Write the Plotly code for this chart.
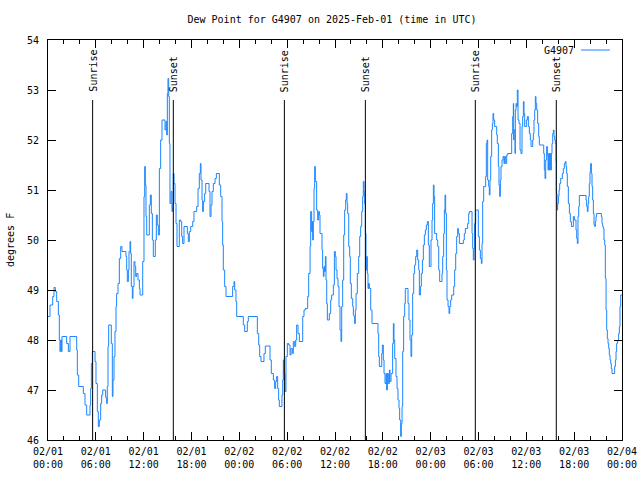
import datetime as dt
import plotly.graph_objects as go

start = dt.datetime(2025, 2, 1, 0, 0)

# hours since 2025-02-01 00:00 UTC
hours = [
 0.0, 0.25, 0.59, 0.75, 0.92, 1.09, 1.30, 1.42, 1.50, 1.59, 1.68, 1.76, 2.34, 2.55, 2.76, 3.60, 3.68, 3.85,
 4.43, 4.64, 4.85, 5.27, 5.35, 5.44, 5.56, 5.90, 6.02, 6.19, 6.31, 6.44, 6.61, 6.73, 6.86, 7.23, 7.36, 7.44,
 7.53, 7.61, 7.94, 8.07, 8.15, 8.28, 8.40, 8.53, 8.61, 8.78, 8.95, 9.12, 9.28, 9.78, 9.87, 9.95, 10.08, 10.16,
 10.29, 10.37, 10.45, 10.58, 10.66, 10.79, 10.91, 11.0, 11.12, 11.29, 11.46, 11.54, 11.88, 12.04, 12.13, 12.21,
 12.29, 12.38, 12.71, 12.84, 12.96, 13.09, 13.21, 13.46, 13.59, 13.71, 13.84, 13.97, 14.13, 14.30, 14.68, 14.80,
 14.89, 14.97, 15.05, 15.14, 15.22, 15.30, 15.43, 15.55, 15.64, 15.72, 15.81, 15.93, 16.06, 16.18, 16.47, 16.64,
 16.77, 16.89, 17.06, 17.48, 17.60, 17.73, 17.90, 18.15, 18.31, 18.65, 18.82, 18.98, 19.11, 19.19, 19.32, 19.40,
 19.49, 19.65, 19.78, 20.20, 20.32, 20.45, 20.57, 20.74, 20.95, 21.12, 21.49, 21.66, 21.83, 21.91, 21.99, 22.16,
 22.33, 23.16, 23.33, 23.42, 23.58, 23.67, 24.50, 24.67, 25.00, 25.13, 26.26, 26.43, 26.55, 26.72, 27.09, 27.26,
 27.85, 28.01, 28.27, 28.43, 28.56, 28.68, 28.81, 28.93, 29.02, 29.35, 29.44, 29.52, 29.60, 29.73, 29.85, 30.02,
 30.19, 30.36, 30.48, 30.65, 30.77, 30.94, 31.07, 31.19, 31.36, 31.53, 31.95, 32.11, 32.28, 32.57, 32.70, 32.87,
 32.95, 33.07, 33.16, 33.20, 33.28, 33.37, 33.45, 33.53, 33.70, 33.83, 33.95, 34.04, 34.12, 34.37, 34.45, 34.54,
 34.62, 34.71, 34.79, 34.87, 34.96, 35.04, 35.29, 35.46, 35.58, 35.79, 35.92, 36.04, 36.13, 36.25, 36.38, 36.50,
 36.63, 36.75, 36.84, 36.96, 37.09, 37.21, 37.34, 37.42, 37.51, 37.59, 37.72, 37.84, 37.92, 38.05, 38.22, 38.30,
 38.38, 38.47, 38.55, 38.64, 38.80, 38.97, 39.10, 39.22, 39.35, 39.47, 39.55, 39.64, 39.72, 39.81, 39.89, 39.97,
 40.06, 40.14, 40.22, 40.31, 40.48, 40.64, 41.39, 41.48, 41.56, 41.86, 41.94, 42.06, 42.15, 42.27, 42.40, 42.48,
 42.57, 42.69, 42.82, 42.90, 43.03, 43.23, 43.32, 43.40, 43.49, 43.65, 43.78, 43.90, 44.03, 44.11, 44.24, 44.32,
 44.41, 44.49, 44.61, 44.74, 44.82, 45.16, 45.28, 45.41, 45.53, 45.62, 45.74, 45.87, 45.99, 46.12, 46.25, 46.37,
 46.50, 46.58, 46.71, 46.83, 46.96, 47.08, 47.21, 47.33, 47.46, 47.58, 47.71, 47.83, 47.92, 48.04, 48.17, 48.25,
 48.34, 48.42, 48.50, 48.75, 48.88, 49.01, 49.13, 49.42, 49.51, 49.63, 49.72, 49.80, 49.88, 49.97, 50.05, 50.18,
 50.30, 50.39, 50.51, 50.64, 50.89, 51.01, 51.14, 51.26, 51.39, 51.47, 51.60, 52.10, 52.22, 52.35, 52.64, 52.77,
 52.85, 53.19, 53.27, 53.35, 53.44, 53.52, 53.65, 53.98, 54.11, 54.23, 54.36, 54.44, 54.52, 54.65, 54.90, 54.98,
 55.07, 55.15, 55.28, 55.36, 55.44, 55.53, 55.65, 55.74, 55.82, 55.90, 56.03, 56.28, 56.36, 56.49, 56.57, 56.66,
 56.74, 56.82, 56.95, 57.08, 57.20, 57.28, 57.41, 57.54, 57.66, 58.16, 58.29, 58.37, 58.41, 58.45, 58.58, 58.62,
 58.71, 58.79, 58.87, 58.96, 59.08, 59.21, 59.33, 59.46, 59.54, 59.63, 59.71, 59.79, 60.00, 60.13, 60.25, 60.38,
 60.50, 60.59, 60.80, 60.88, 60.96, 61.05, 61.13, 61.21, 61.30, 61.42, 61.55, 61.63, 62.18, 62.26, 62.34, 62.43,
 62.55, 62.64, 62.72, 62.80, 62.89, 62.97, 63.05, 63.14, 63.22, 63.31, 63.39, 63.47, 63.56, 63.64, 63.72, 63.76,
 63.85, 63.93, 64.02, 64.10, 64.18, 64.31, 64.52, 64.64, 64.77, 64.89, 64.98, 65.06, 65.14, 65.27, 65.40, 65.52,
 65.65, 65.90, 66.02, 66.23, 66.32, 66.40, 66.48, 66.57, 66.65, 67.49, 67.57, 67.65, 67.74, 67.82, 67.90, 67.99,
 68.07, 68.16, 68.24, 68.32, 68.41, 68.49, 68.57, 68.66, 68.74, 68.82, 69.41, 69.49, 69.58, 69.66, 69.74, 69.83,
 69.91, 70.00, 70.08, 70.16, 70.25, 70.33, 70.41, 70.50, 70.58, 70.66, 70.75, 71.08, 71.17, 71.25, 71.33, 71.42,
 71.50, 71.58, 71.67, 71.75, 71.84, 72.0,
]

dew_point = [
 48.47, 48.7, 48.87, 49.05, 48.97, 48.77, 48.5, 48.0, 47.77, 48.0, 47.77, 48.07, 47.93, 47.77, 48.07, 47.8, 47.3, 47.07,
 46.93, 46.7, 46.5, 46.7, 47.03, 47.53, 47.77, 47.57, 47.13, 46.57, 46.27, 46.4, 46.73, 46.9, 47.0, 46.85, 46.73, 47.07,
 47.87, 48.3, 47.93, 46.87, 47.2, 47.67, 48.17, 48.67, 48.93, 49.13, 49.63, 49.87, 49.77, 49.67, 49.4, 49.17, 49.4, 49.77,
 49.97, 49.73, 49.07, 48.83, 49.07, 49.57, 49.47, 49.27, 49.33, 49.2, 49.03, 48.9, 49.57, 50.87, 51.47, 51.1,
 50.47, 50.1, 50.7, 50.9, 50.53, 50.0, 49.67, 50.0, 50.5, 50.3, 50.1, 51.43, 52.0, 52.4, 52.2, 52.37,
 52.1, 52.93, 53.23, 52.87, 51.93, 50.73, 50.97, 50.57, 50.73, 51.33, 51.13, 50.73, 50.33, 49.87, 50.4, 50.37,
 50.07, 49.93, 50.27, 50.13, 49.97, 50.17, 50.27, 50.37, 50.57, 50.67, 51.03, 51.33, 51.53, 51.2, 50.8, 50.57,
 50.77, 50.93, 51.13, 50.97, 50.47, 50.7, 50.97, 51.13, 51.23, 51.33, 51.1, 50.87, 50.37, 49.9, 49.4, 49.07,
 48.87, 49.07, 49.17, 49.0, 48.77, 48.47, 48.3, 48.17, 48.37, 48.47, 48.13, 47.9, 47.67, 47.57, 47.73, 47.88,
 47.6, 47.33, 47.2, 47.03, 47.17, 47.27, 47.03, 46.8, 46.67, 46.9, 47.2, 47.6, 47.33, 46.97, 47.67, 47.93,
 47.9, 47.7, 47.83, 47.73, 47.97, 47.87, 48.0, 48.3, 48.13, 47.97, 48.47, 48.6, 48.63, 48.87, 49.33, 49.87,
 50.57, 50.17, 50.37, 50.0, 50.37, 51.03, 51.47, 51.17, 50.6, 50.4, 50.57, 50.5, 50.13, 49.8, 49.43, 49.27,
 49.47, 49.37, 49.67, 49.2, 48.73, 48.4, 48.53, 48.8, 48.9, 49.1, 49.77, 49.67, 49.4, 49.23, 49.07, 48.67,
 48.2, 47.97, 48.67, 49.2, 50.1, 50.6, 50.8, 50.93, 50.73, 50.53, 49.87, 49.67, 49.13, 48.83, 48.67, 48.5,
 48.47, 48.33, 48.6, 48.93, 49.33, 49.67, 50.07, 50.27, 50.57, 50.87, 51.17, 50.97, 50.73, 50.13, 49.4, 49.67,
 49.33, 49.03, 49.13, 49.03, 48.6, 48.33, 48.13, 47.67, 47.47, 47.73, 47.9, 47.6, 47.33, 47.13, 47.33, 47.0,
 47.33, 47.13, 47.4, 47.17, 47.33, 47.93, 48.33, 48.0, 47.63, 47.27, 47.03, 46.8, 46.63, 46.4, 46.07, 46.33,
 46.67, 47.77, 48.47, 48.73, 49.03, 48.73, 48.4, 48.0, 47.67, 48.1, 48.93, 49.33, 49.5, 49.67, 49.8, 49.6,
 49.4, 48.9, 49.07, 49.33, 49.6, 49.9, 50.1, 50.2, 50.3, 50.37, 49.9, 49.47, 49.47, 50.0, 50.4, 50.73,
 51.1, 50.87, 50.13, 50.0, 49.87, 49.4, 49.17, 49.33, 49.67, 50.13, 50.6, 50.9, 50.53, 49.4, 48.8, 48.67,
 48.53, 48.67, 48.8, 48.9, 49.07, 49.4, 49.73, 50.07, 50.23, 50.13, 49.93, 50.0, 50.13, 50.23, 50.33, 50.53,
 50.57, 50.13, 49.83, 49.6, 49.83, 50.33, 50.6, 50.07, 49.8, 49.63, 49.53, 49.93, 50.77, 51.07, 51.27, 51.93,
 52.0, 51.2, 51.07, 50.9, 51.2, 51.67, 52.2, 52.33, 52.53, 52.4, 52.27, 52.1, 51.93, 51.47, 51.1, 50.87,
 51.2, 51.47, 51.6, 51.67, 51.53, 51.67, 51.53, 51.7, 51.73, 52.13, 52.47, 52.73, 52.0, 52.2, 51.73, 52.6,
 52.73, 52.67, 53.0, 52.4, 52.33, 51.8, 51.73, 52.27, 52.47, 52.77, 52.53, 52.27, 52.4, 52.47, 52.27, 52.13,
 52.0, 51.87, 52.0, 52.13, 52.4, 52.6, 52.87, 52.73, 52.6, 52.33, 52.07, 51.9, 51.73, 51.4, 51.23, 51.6,
 51.87, 51.7, 51.4, 51.73, 51.4, 51.73, 51.4, 51.73, 51.93, 52.13, 52.2, 52.07, 52.0, 51.93, 51.57, 50.93,
 50.6, 50.73, 50.87, 51.0, 51.13, 51.23, 51.33, 51.43, 51.53, 51.57, 51.47, 51.33, 51.07, 50.73, 50.53, 50.37,
 50.27, 50.47, 50.4, 50.2, 50.03, 49.93, 50.47, 50.67, 50.89, 50.8, 50.67, 50.57, 50.73, 50.87, 51.13, 51.37,
 51.53, 51.33, 51.07, 50.8, 50.53, 50.3, 50.27, 50.37, 50.47, 50.53, 50.47, 50.33, 50.27, 50.23, 50.0, 49.9,
 49.23, 48.6, 48.2, 48.03, 47.93, 47.83, 47.7, 47.6, 47.53, 47.43, 47.33, 47.47, 47.6, 47.77, 47.93, 47.97,
 48.0, 48.13, 48.27, 48.67, 48.9, 48.9,
]

event_hours = [5.6, 15.72, 29.65, 39.81, 53.6, 63.76]
event_labels = ["Sunrise", "Sunset", "Sunrise", "Sunset", "Sunrise", "Sunset"]
event_top = 52.8

tick_hours = [0, 6, 12, 18, 24, 30, 36, 42, 48, 54, 60, 66, 72]
tick_labels = ["02/01<br>00:00", "02/01<br>06:00", "02/01<br>12:00", "02/01<br>18:00",
               "02/02<br>00:00", "02/02<br>06:00", "02/02<br>12:00", "02/02<br>18:00",
               "02/03<br>00:00", "02/03<br>06:00", "02/03<br>12:00", "02/03<br>18:00",
               "02/04<br>00:00"]
y_ticks = [46, 47, 48, 49, 50, 51, 52, 53, 54]

def t(h):
    return start + dt.timedelta(hours=h)

n = min(len(hours), len(dew_point))
xs = [t(h) for h in hours[:n]]
ys = dew_point[:n]

FONT = "DejaVu Sans Mono"
FS = 10
BLUE = "#1a85ff"

fig = go.Figure()
fig.add_trace(go.Scatter(x=xs, y=ys, mode="lines", line=dict(color=BLUE, width=1, shape="hv"),
                         name="G4907", showlegend=False))

for h, lab in zip(event_hours, event_labels):
    fig.add_trace(go.Scatter(x=[t(h), t(h)], y=[46, event_top], mode="lines",
                             line=dict(color="black", width=1), showlegend=False, hoverinfo="skip"))
    fig.add_annotation(x=t(h), y=event_top, text=lab, textangle=-90, showarrow=False,
                       xanchor="center", yanchor="bottom", yshift=6,
                       font=dict(family=FONT, size=FS, color="black"))

# key
fig.add_annotation(xref="paper", yref="paper", x=0.9146, y=0.975, text="G4907", showarrow=False,
                   xanchor="right", yanchor="middle", xshift=3,
                   font=dict(family=FONT, size=FS, color="black"))
fig.add_shape(type="line", xref="paper", yref="paper", x0=0.9286, x1=0.979, y0=0.975, y1=0.975,
              line=dict(color=BLUE, width=1))

# y-axis title
fig.add_annotation(xref="paper", yref="paper", x=(10 - 48) / 574, y=0.5, text="degrees F",
                   textangle=-90, showarrow=False, xanchor="center", yanchor="middle",
                   font=dict(family=FONT, size=FS, color="black"))

fig.update_layout(
    width=640, height=480,
    margin=dict(l=48, r=18, t=40, b=40, autoexpand=False),
    paper_bgcolor="white", plot_bgcolor="white",
    font=dict(family=FONT, size=FS, color="black"),
    title=dict(text="Dew Point for G4907 on 2025-Feb-01 (time in UTC)", x=332 / 640, xanchor="center",
               y=1 - 19 / 480, yanchor="middle", font=dict(family=FONT, size=FS)),
    showlegend=False,
)
fig.update_xaxes(
    range=[t(0), t(72)], tickvals=[t(h) for h in tick_hours], ticktext=tick_labels,
    ticks="inside", ticklen=8, tickcolor="black", showline=True, linecolor="black", linewidth=1,
    mirror="ticks", showgrid=False, zeroline=False, automargin=False, ticklabelstandoff=2,
    minor=dict(dtick=2 * 3600 * 1000, ticks="inside", ticklen=4, tickcolor="black", showgrid=False),
    tickfont=dict(family=FONT, size=FS),
)
fig.update_yaxes(
    range=[46, 54], tickvals=y_ticks, ticks="inside", ticklen=8, tickcolor="black",
    showline=True, linecolor="black", linewidth=1, mirror="ticks", showgrid=False, zeroline=False,
    automargin=False, ticklabelstandoff=6,
    tickfont=dict(family=FONT, size=FS),
)

fig.write_html("out.html", config={"displayModeBar": False},
               post_script="document.body.style.margin='0';document.body.style.overflow='hidden';")
